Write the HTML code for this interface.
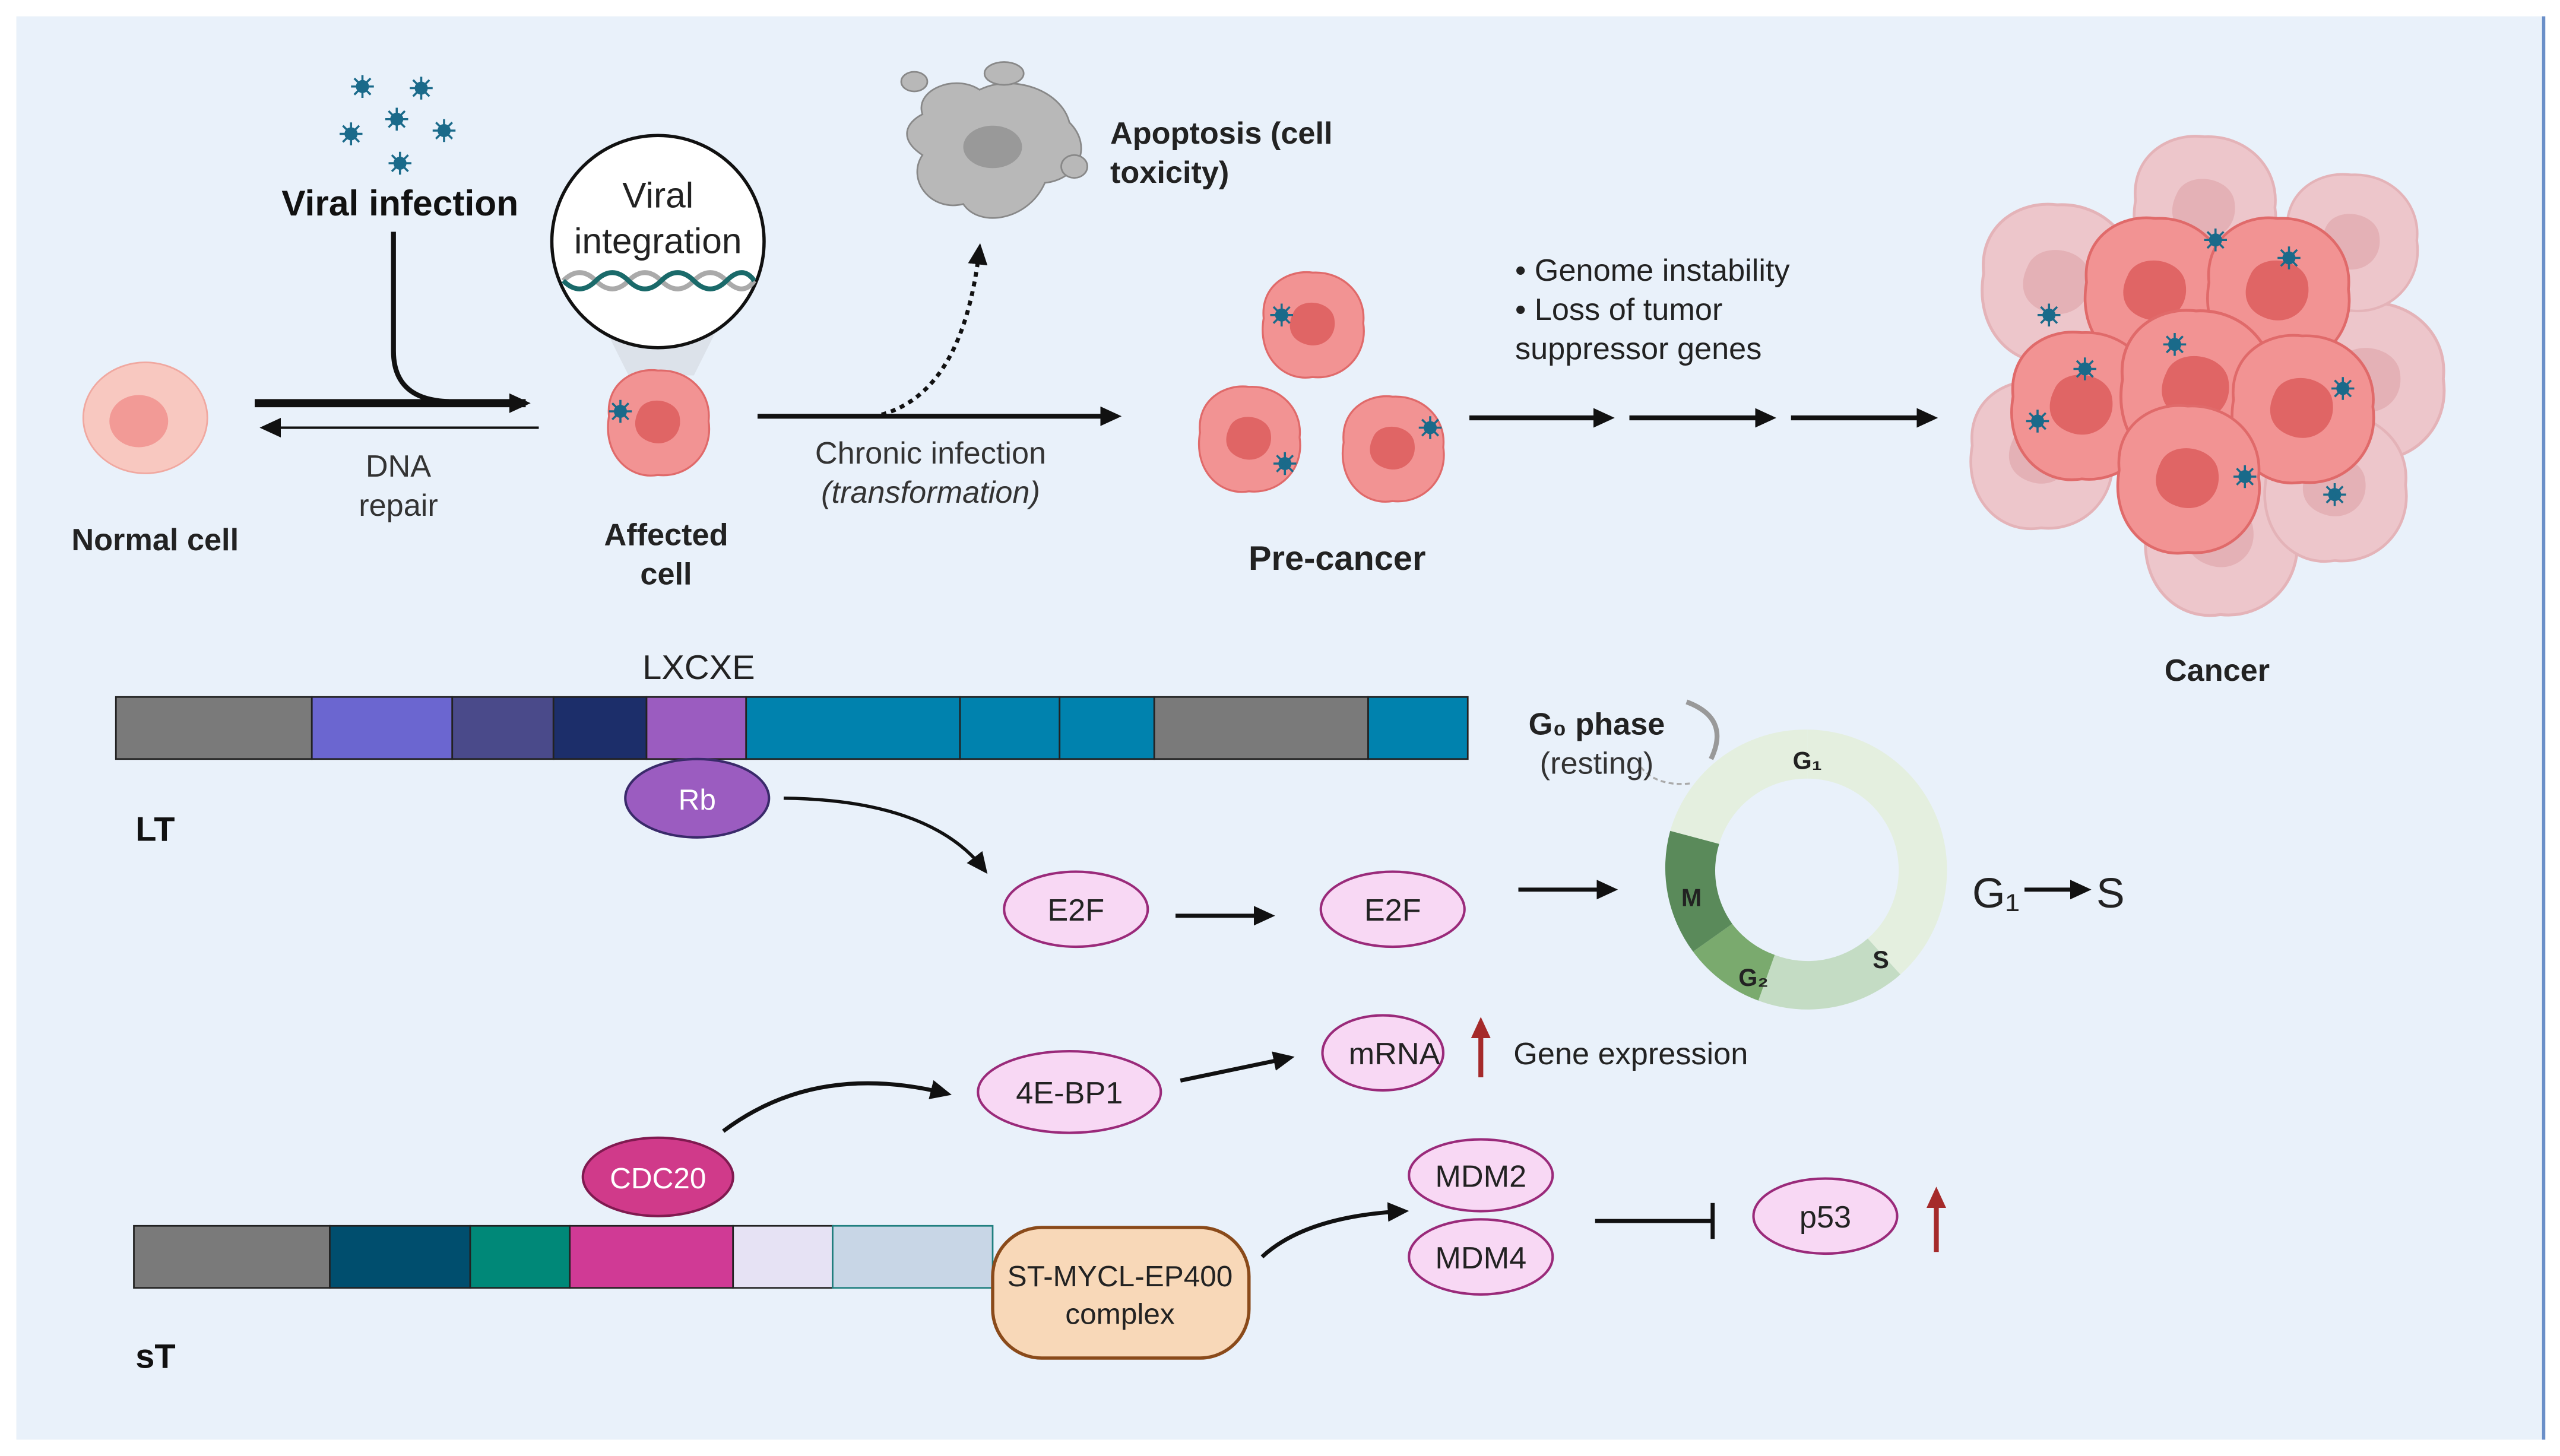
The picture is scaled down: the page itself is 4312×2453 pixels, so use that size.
<!DOCTYPE html>
<html><head><meta charset="utf-8"><style>
html,body{margin:0;padding:0;background:#fff;}
svg{display:block;}
text{font-family:"Liberation Sans",sans-serif;}
</style></head><body>
<svg width="4312" height="2453" viewBox="0 0 1568 892" xmlns="http://www.w3.org/2000/svg">
<defs>
<marker id="ah" markerWidth="14" markerHeight="14" refX="10" refY="6" orient="auto" markerUnits="userSpaceOnUse"><path d="M0,0 L13,6 L0,12 z" fill="#111"/></marker>
<marker id="ahr" markerWidth="14" markerHeight="14" refX="10" refY="6" orient="auto" markerUnits="userSpaceOnUse"><path d="M0,0 L13,6 L0,12 z" fill="#a52a2a"/></marker>
<g id="virus"><circle r="4" fill="#1a6a8a"/><g stroke="#1a6a8a" stroke-width="1.3"><line x1="-7" y1="0" x2="7" y2="0"/><line x1="0" y1="-7" x2="0" y2="7"/><line x1="-5" y1="-5" x2="5" y2="5"/><line x1="-5" y1="5" x2="5" y2="-5"/></g></g>
<g id="ccell"><path d="M-30,-5 C-32,-25 -15,-35 0,-33 C18,-34 33,-20 31,-2 C34,18 18,33 0,31 C-18,34 -34,18 -30,-5z" fill="#f29393" stroke="#e06a6a" stroke-width="1.2"/><path d="M-12,-8 C-8,-18 10,-16 13,-6 C16,6 6,14 -4,11 C-14,8 -16,0 -12,-8z" fill="#e06565"/></g>
</defs>
<rect x="0" y="0" width="1568" height="892" fill="#fff"/>
<rect x="10" y="10" width="1548" height="872" fill="#e9f1fa"/>
<line x1="1558" y1="10" x2="1558" y2="882" stroke="#6a8fc8" stroke-width="2"/>

<ellipse cx="89" cy="256" rx="38" ry="34" fill="#f8c8c0" stroke="#f0a8a0"/>
<ellipse cx="85" cy="258" rx="18" ry="16" fill="#f29a96"/>
<text x="95" y="337" font-size="19" font-weight="bold" text-anchor="middle" fill="#222">Normal cell</text>

<use href="#virus" x="222" y="53"/><use href="#virus" x="258" y="54"/><use href="#virus" x="215" y="82"/><use href="#virus" x="243" y="73"/><use href="#virus" x="272" y="80"/><use href="#virus" x="245" y="100"/>
<text x="245" y="132" font-size="22" font-weight="bold" text-anchor="middle" fill="#111">Viral infection</text>
<path d="M241,142 L241,215 Q241,245 275,246" fill="none" stroke="#111" stroke-width="3"/>
<line x1="156" y1="247" x2="322" y2="247" stroke="#111" stroke-width="5" marker-end="url(#ah)"/>
<line x1="330" y1="262" x2="162" y2="262" stroke="#111" stroke-width="1.5" marker-end="url(#ah)"/>
<text x="244" y="292" font-size="19" text-anchor="middle" fill="#333">DNA</text>
<text x="244" y="316" font-size="19" text-anchor="middle" fill="#333">repair</text>

<path d="M370,200 L440,200 L425,230 L385,230z" fill="#d8dee6" opacity="0.8"/>
<circle cx="403" cy="148" r="65" fill="#fff" stroke="#111" stroke-width="2"/>
<text x="403" y="127" font-size="22" text-anchor="middle" fill="#222">Viral</text>
<text x="403" y="155" font-size="22" text-anchor="middle" fill="#222">integration</text>
<path d="M345,172 Q355,162 365,172 T385,172 T405,172 T425,172 T445,172 T462,172" fill="none" stroke="#aaa" stroke-width="3"/>
<path d="M345,172 Q355,182 365,172 T385,172 T405,172 T425,172 T445,172 T462,172" fill="none" stroke="#1a6a6a" stroke-width="3"/>
<use href="#ccell" x="403" y="260"/><use href="#virus" x="380" y="252"/>
<text x="408" y="334" font-size="19" font-weight="bold" text-anchor="middle" fill="#222">Affected</text>
<text x="408" y="358" font-size="19" font-weight="bold" text-anchor="middle" fill="#222">cell</text>

<line x1="464" y1="255" x2="684" y2="255" stroke="#111" stroke-width="3" marker-end="url(#ah)"/>
<path d="M540,254 Q590,240 600,152" fill="none" stroke="#111" stroke-width="2.5" stroke-dasharray="3,3" marker-end="url(#ah)"/>
<text x="570" y="284" font-size="19" text-anchor="middle" fill="#333">Chronic infection</text>
<text x="570" y="308" font-size="19" font-style="italic" text-anchor="middle" fill="#333">(transformation)</text>

<g fill="#b8b8b8" stroke="#888" stroke-width="1">
<path d="M565,70 C560,55 585,45 600,55 C620,45 650,55 655,75 C670,90 660,110 640,112 C630,135 600,140 590,125 C570,130 555,110 565,95 C550,85 555,75 565,70z"/>
<ellipse cx="560" cy="50" rx="8" ry="6"/><ellipse cx="615" cy="45" rx="12" ry="7"/><ellipse cx="658" cy="102" rx="8" ry="7"/>
</g>
<ellipse cx="608" cy="90" rx="18" ry="13" fill="#999"/>
<text x="680" y="88" font-size="19" font-weight="bold" fill="#222">Apoptosis (cell</text>
<text x="680" y="112" font-size="19" font-weight="bold" fill="#222">toxicity)</text>

<use href="#ccell" x="804" y="200"/><use href="#ccell" x="765" y="270"/><use href="#ccell" x="853" y="276"/>
<use href="#virus" x="785" y="193"/><use href="#virus" x="787" y="284"/><use href="#virus" x="876" y="262"/>
<text x="819" y="349" font-size="21" font-weight="bold" text-anchor="middle" fill="#222">Pre-cancer</text>
<g stroke="#111" stroke-width="3"><line x1="900" y1="256" x2="986" y2="256" marker-end="url(#ah)"/><line x1="998" y1="256" x2="1085" y2="256" marker-end="url(#ah)"/><line x1="1097" y1="256" x2="1184" y2="256" marker-end="url(#ah)"/></g>
<text x="928" y="172" font-size="19" fill="#222">• Genome instability</text>
<text x="928" y="196" font-size="19" fill="#222">• Loss of tumor</text>
<text x="928" y="220" font-size="19" fill="#222">suppressor genes</text>

<g opacity="0.45"><use href="#ccell" transform="translate(1260,175) scale(1.5)"/><use href="#ccell" transform="translate(1450,235) scale(1.5)"/><use href="#ccell" transform="translate(1360,330) scale(1.5)"/><use href="#ccell" transform="translate(1250,280) scale(1.4)"/><use href="#ccell" transform="translate(1440,150) scale(1.3)"/><use href="#ccell" transform="translate(1430,300) scale(1.4)"/><use href="#ccell" transform="translate(1350,130) scale(1.4)"/></g>
<use href="#ccell" transform="translate(1320,180) scale(1.4)"/><use href="#ccell" transform="translate(1395,180) scale(1.4)"/><use href="#ccell" transform="translate(1275,250) scale(1.4)"/><use href="#ccell" transform="translate(1345,240) scale(1.5)"/><use href="#ccell" transform="translate(1410,252) scale(1.4)"/><use href="#ccell" transform="translate(1340,295) scale(1.4)"/>
<use href="#virus" x="1357" y="147"/><use href="#virus" x="1402" y="158"/><use href="#virus" x="1255" y="193"/><use href="#virus" x="1332" y="211"/><use href="#virus" x="1277" y="226"/><use href="#virus" x="1435" y="238"/><use href="#virus" x="1248" y="258"/><use href="#virus" x="1375" y="292"/><use href="#virus" x="1430" y="303"/>
<text x="1358" y="417" font-size="19" font-weight="bold" text-anchor="middle" fill="#222">Cancer</text>

<text x="428" y="416" font-size="21" text-anchor="middle" fill="#222">LXCXE</text>
<g stroke="#222" stroke-width="1">
<rect x="71" y="427" width="120" height="38" fill="#7a7a7a"/>
<rect x="191" y="427" width="86" height="38" fill="#6b66d0"/>
<rect x="277" y="427" width="62" height="38" fill="#4a4a8a"/>
<rect x="339" y="427" width="57" height="38" fill="#1c2e6a"/>
<rect x="396" y="427" width="61" height="38" fill="#9b5cc0"/>
<rect x="457" y="427" width="131" height="38" fill="#0082ae"/>
<rect x="588" y="427" width="61" height="38" fill="#0082ae"/>
<rect x="649" y="427" width="58" height="38" fill="#0082ae"/>
<rect x="707" y="427" width="131" height="38" fill="#7a7a7a"/>
<rect x="838" y="427" width="61" height="38" fill="#0082ae"/>
</g>
<text x="83" y="515" font-size="21" font-weight="bold" fill="#111">LT</text>
<ellipse cx="427" cy="489" rx="44" ry="24" fill="#9b5cc0" stroke="#3a2a6a" stroke-width="1.5"/>
<text x="427" y="496" font-size="18" text-anchor="middle" fill="#fff">Rb</text>
<path d="M480,489 Q570,490 603,533" fill="none" stroke="#111" stroke-width="2" marker-end="url(#ah)"/>
<g fill="#f8d8f4" stroke="#9a2a7a" stroke-width="1.5">
<ellipse cx="659" cy="557" rx="44" ry="23"/><ellipse cx="853" cy="557" rx="44" ry="23"/>
<ellipse cx="655" cy="669" rx="56" ry="25"/><ellipse cx="847" cy="645" rx="37" ry="23"/>
<ellipse cx="907" cy="720" rx="44" ry="22"/><ellipse cx="907" cy="770" rx="44" ry="23"/>
<ellipse cx="1118" cy="745" rx="44" ry="23"/>
</g>
<g font-size="19" text-anchor="middle" fill="#222">
<text x="659" y="564">E2F</text><text x="853" y="564">E2F</text><text x="655" y="676">4E-BP1</text><text x="854" y="652">mRNA</text>
<text x="907" y="727">MDM2</text><text x="907" y="777">MDM4</text><text x="1118" y="752">p53</text>
</g>
<g stroke="#111" stroke-width="2.5"><line x1="720" y1="561" x2="778" y2="561" marker-end="url(#ah)"/><line x1="930" y1="545" x2="988" y2="545" marker-end="url(#ah)"/></g>
<path d="M723,662 L790,648" stroke="#111" stroke-width="2.5" marker-end="url(#ah)"/>
<path d="M443,693 Q500,650 580,670" fill="none" stroke="#111" stroke-width="2.5" marker-end="url(#ah)"/>
<path d="M773,770 Q800,745 860,742" fill="none" stroke="#111" stroke-width="2.5" marker-end="url(#ah)"/>
<line x1="977" y1="748" x2="1048" y2="748" stroke="#111" stroke-width="2.5"/><line x1="1049" y1="737" x2="1049" y2="759" stroke="#111" stroke-width="2.5"/>
<line x1="907" y1="660" x2="907" y2="626" stroke="#a52a2a" stroke-width="3" marker-end="url(#ahr)"/>
<line x1="1186" y1="767" x2="1186" y2="730" stroke="#a52a2a" stroke-width="3" marker-end="url(#ahr)"/>
<text x="927" y="652" font-size="19" fill="#222">Gene expression</text>

<g transform="translate(1107,533)">
<path d="M0,-86 A86,86 0 0 1 57,64 L37,42 A56,56 0 0 0 0,-56z" fill="#e4efdf"/>
<path d="M57,64 A86,86 0 0 1 -30,80 L-20,52 A56,56 0 0 0 37,42z" fill="#c4dcc4"/>
<path d="M-30,80 A86,86 0 0 1 -70,50 L-46,33 A56,56 0 0 0 -20,52z" fill="#7aaa6e"/>
<path d="M-70,50 A86,86 0 0 1 -84,-24 L-54,-16 A56,56 0 0 0 -46,33z" fill="#5a8a5a"/>
<path d="M-84,-24 A86,86 0 0 1 0,-86 L0,-56 A56,56 0 0 0 -54,-16z" fill="#e4efdf"/>
<text x="0" y="-62" font-size="15" font-weight="bold" text-anchor="middle" fill="#222">G₁</text>
<text x="45" y="60" font-size="15" font-weight="bold" text-anchor="middle" fill="#222">S</text>
<text x="-33" y="71" font-size="15" font-weight="bold" text-anchor="middle" fill="#222">G₂</text>
<text x="-71" y="22" font-size="15" font-weight="bold" text-anchor="middle" fill="#222">M</text>
</g>
<path d="M1033,430 Q1060,440 1048,465" fill="none" stroke="#999" stroke-width="3"/>
<path d="M1005,470 Q1015,482 1035,480" fill="none" stroke="#aaa" stroke-width="1.2" stroke-dasharray="3,2"/>
<text x="978" y="450" font-size="19" font-weight="bold" text-anchor="middle" fill="#222">G₀ phase</text>
<text x="978" y="474" font-size="19" text-anchor="middle" fill="#333">(resting)</text>
<text x="1208" y="556" font-size="26" fill="#222">G₁</text>
<line x1="1240" y1="545" x2="1278" y2="545" stroke="#111" stroke-width="2.5" marker-end="url(#ah)"/>
<text x="1284" y="556" font-size="26" fill="#222">S</text>

<g stroke="#222" stroke-width="1">
<rect x="82" y="751" width="120" height="38" fill="#7a7a7a"/>
<rect x="202" y="751" width="86" height="38" fill="#004e6e"/>
<rect x="288" y="751" width="61" height="38" fill="#008878"/>
<rect x="349" y="751" width="100" height="38" fill="#d03a95"/>
<rect x="449" y="751" width="61" height="38" fill="#e6e2f4"/>
<rect x="510" y="751" width="98" height="38" fill="#c8d6e6" stroke="#208080"/>
</g>
<ellipse cx="403" cy="721" rx="46" ry="24" fill="#d03a8a" stroke="#801a50" stroke-width="1.5"/>
<text x="403" y="728" font-size="18" text-anchor="middle" fill="#fff">CDC20</text>
<rect x="608" y="752" width="157" height="80" rx="30" fill="#f8d8b8" stroke="#8a4a1a" stroke-width="2"/>
<text x="686" y="788" font-size="18" text-anchor="middle" fill="#222">ST-MYCL-EP400</text>
<text x="686" y="811" font-size="18" text-anchor="middle" fill="#222">complex</text>
<text x="83" y="838" font-size="21" font-weight="bold" fill="#111">sT</text>
</svg>
</body></html>
